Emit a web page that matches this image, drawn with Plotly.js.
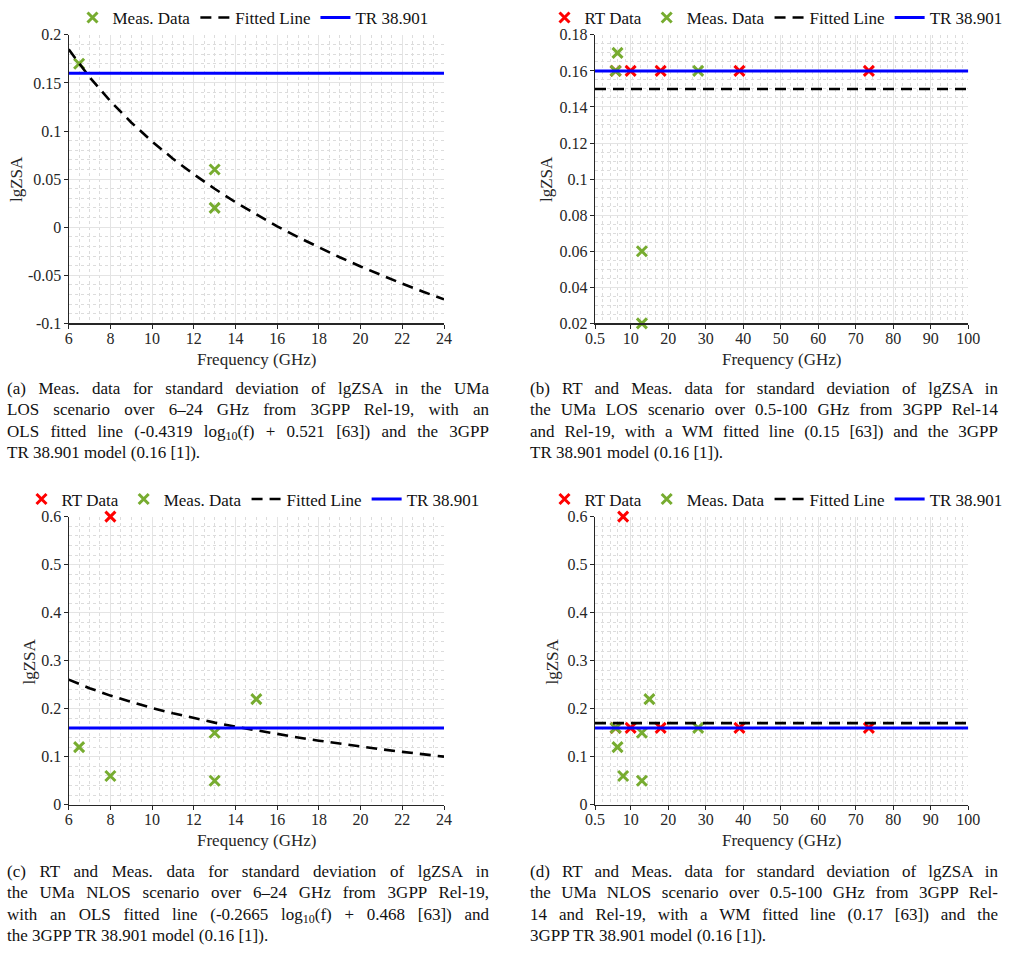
<!DOCTYPE html>
<html>
<head>
<meta charset="utf-8">
<script src="https://cdn.plot.ly/plotly-3.0.1.min.js"></script>
<style>
  html, body { margin: 0; padding: 0; background: #fff; }
  #wrap { position: relative; width: 1020px; height: 954px; }
  #fig { position: absolute; left: 0; top: 0; width: 1020px; height: 954px; }
  .cap { position: absolute; font-size: 17px; color: #111; line-height: 21.3px; }
  .cap div { text-align: justify; text-align-last: justify; white-space: normal; }
  .cap div.last { text-align: left; text-align-last: left; }
  .cap sub { font-size: 12px; vertical-align: -3px; line-height: 0; }
</style>
</head>
<body>
<div id="wrap">
  <div id="fig"></div>
  <div class="cap" style="left:7px; top:378px; width:482px;">
    <div>(a) Meas. data for standard deviation of lgZSA in the UMa</div>
    <div>LOS scenario over 6–24 GHz from 3GPP Rel-19, with an</div>
    <div>OLS fitted line (-0.4319 log<sub>10</sub>(f) + 0.521 [63]) and the 3GPP</div>
    <div class="last">TR 38.901 model (0.16 [1]).</div>
  </div>
  <div class="cap" style="left:530px; top:378px; width:468px;">
    <div>(b) RT and Meas. data for standard deviation of lgZSA in</div>
    <div>the UMa LOS scenario over 0.5-100 GHz from 3GPP Rel-14</div>
    <div>and Rel-19, with a WM fitted line (0.15 [63]) and the 3GPP</div>
    <div class="last">TR 38.901 model (0.16 [1]).</div>
  </div>
  <div class="cap" style="left:7px; top:861px; width:482px;">
    <div>(c) RT and Meas. data for standard deviation of lgZSA in</div>
    <div>the UMa NLOS scenario over 6–24 GHz from 3GPP Rel-19,</div>
    <div>with an OLS fitted line (-0.2665 log<sub>10</sub>(f) + 0.468 [63]) and</div>
    <div class="last">the 3GPP TR 38.901 model (0.16 [1]).</div>
  </div>
  <div class="cap" style="left:530px; top:861px; width:468px;">
    <div>(d) RT and Meas. data for standard deviation of lgZSA in</div>
    <div>the UMa NLOS scenario over 0.5-100 GHz from 3GPP Rel-</div>
    <div>14 and Rel-19, with a WM fitted line (0.17 [63]) and the</div>
    <div class="last">3GPP TR 38.901 model (0.16 [1]).</div>
  </div>
</div>
<script>
// ---- (a) UMa LOS, 6–24 GHz ----
const fitFreqA = [6,7,8,9,10,11,12,13,14,15,16,17,18,19,20,21,22,23,24];
const fitValA  = [0.1849,0.1560,0.1310,0.1089,0.0891,0.0712,0.0549,0.0399,0.0260,0.0131,
                  0.0009,-0.0104,-0.0212,-0.0313,-0.0409,-0.0501,-0.0588,-0.0671,-0.0751];
const measFreqA = [6.5, 13, 13];
const measValA  = [0.17, 0.06, 0.02];
const trFreqA = [6, 24];
const trValA  = [0.16, 0.16];

// ---- (b) UMa LOS, 0.5–100 GHz ----
const rtFreqB = [6, 10, 18, 39, 73.5];
const rtValB  = [0.16, 0.16, 0.16, 0.16, 0.16];
const measFreqB = [6, 6.5, 13, 13, 28];
const measValB  = [0.16, 0.17, 0.06, 0.02, 0.16];
const fitFreqB = [0.5, 100];
const fitValB  = [0.15, 0.15];
const trFreqB = [0.5, 100];
const trValB  = [0.16, 0.16];

// ---- (c) UMa NLOS, 6–24 GHz ----
const rtFreqC = [8];
const rtValC  = [0.6];
const measFreqC = [6.5, 8, 13, 13, 15];
const measValC  = [0.12, 0.06, 0.15, 0.05, 0.22];
const fitFreqC = [6,7,8,9,10,11,12,13,14,15,16,17,18,19,20,21,22,23,24];
const fitValC  = [0.2606,0.2428,0.2273,0.2137,0.2015,0.1905,0.1804,0.1711,0.1626,0.1546,
                  0.1471,0.1401,0.1335,0.1272,0.1213,0.1156,0.1102,0.1051,0.1002];
const trFreqC = [6, 24];
const trValC  = [0.16, 0.16];

// ---- (d) UMa NLOS, 0.5–100 GHz ----
const rtFreqD = [6, 8, 10, 18, 39, 73.5];
const rtValD  = [0.16, 0.6, 0.16, 0.16, 0.16, 0.16];
const measFreqD = [6, 6.5, 8, 13, 13, 15, 28];
const measValD  = [0.16, 0.12, 0.06, 0.15, 0.05, 0.22, 0.16];
const fitFreqD = [0.5, 100];
const fitValD  = [0.17, 0.17];
const trFreqD = [0.5, 100];
const trValD  = [0.16, 0.16];

// tick labels
const xTicksNarrow = [6,8,10,12,14,16,18,20,22,24];
const xTickTextNarrow = ['6','8','10','12','14','16','18','20','22','24'];
const xTicksWide = [0.5,10,20,30,40,50,60,70,80,90,100];
const xTickTextWide = ['0.5','10','20','30','40','50','60','70','80','90','100'];
const yTicksA = [-0.1,-0.05,0,0.05,0.1,0.15,0.2];
const yTickTextA = ['-0.1','-0.05','0','0.05','0.1','0.15','0.2'];
const yTicksB = [0.02,0.04,0.06,0.08,0.1,0.12,0.14,0.16,0.18];
const yTickTextB = ['0.02','0.04','0.06','0.08','0.1','0.12','0.14','0.16','0.18'];
const yTicksCD = [0,0.1,0.2,0.3,0.4,0.5,0.6];
const yTickTextCD = ['0','0.1','0.2','0.3','0.4','0.5','0.6'];

// pick the first installed serif face (canvas width test against monospace)
function pickSerif() {
  const cands = ['Liberation Serif', 'DejaVu Serif', 'Times New Roman', 'Noto Serif',
                 'Tinos', 'FreeSerif', 'Nimbus Roman', 'Times'];
  const ctx = document.createElement('canvas').getContext('2d');
  const probe = 'mmmmmmmmmwwwwwlliiI0.15 Meas. Data';
  const widthOf = f => { ctx.font = '40px ' + f; return ctx.measureText(probe).width; };
  const mono = widthOf('monospace'), sans = widthOf('sans-serif');
  for (const c of cands) {
    const a = widthOf('"' + c + '", monospace');
    const b = widthOf('"' + c + '", sans-serif');
    if (a !== mono || b !== sans) return '"' + c + '", serif';
  }
  return 'serif';
}
const SERIF = pickSerif();
document.querySelectorAll('.cap').forEach(el => { el.style.fontFamily = SERIF; });

const INK = '#262626';
const GREEN = '#77AC30', RED = '#FF0000', BLUE = '#0000FF';
const W = 1020, H = 954;
const px = v => v / W;
const py = v => 1 - v / H;

function markers(x, y, name, color, xa, ya, lg) {
  return { x, y, name, type: 'scatter', mode: 'markers', cliponaxis: false,
           xaxis: xa, yaxis: ya, legend: lg,
           marker: { symbol: 'x-thin', size: 10, color, line: { color, width: 3 } } };
}
function fitted(x, y, xa, ya, lg) {
  return { x, y, name: 'Fitted Line', type: 'scatter', mode: 'lines',
           xaxis: xa, yaxis: ya, legend: lg,
           line: { color: '#000', width: 2.6, dash: '11px,7px' } };
}
function model(x, y, xa, ya, lg) {
  return { x, y, name: 'TR 38.901', type: 'scatter', mode: 'lines',
           xaxis: xa, yaxis: ya, legend: lg,
           line: { color: BLUE, width: 3 } };
}

const traces = [
  markers(measFreqA, measValA, 'Meas. Data', GREEN, 'x', 'y', 'legend'),
  fitted(fitFreqA, fitValA, 'x', 'y', 'legend'),
  model(trFreqA, trValA, 'x', 'y', 'legend'),

  markers(rtFreqB, rtValB, 'RT Data', RED, 'x2', 'y2', 'legend2'),
  markers(measFreqB, measValB, 'Meas. Data', GREEN, 'x2', 'y2', 'legend2'),
  fitted(fitFreqB, fitValB, 'x2', 'y2', 'legend2'),
  model(trFreqB, trValB, 'x2', 'y2', 'legend2'),

  markers(rtFreqC, rtValC, 'RT Data', RED, 'x3', 'y3', 'legend3'),
  markers(measFreqC, measValC, 'Meas. Data', GREEN, 'x3', 'y3', 'legend3'),
  fitted(fitFreqC, fitValC, 'x3', 'y3', 'legend3'),
  model(trFreqC, trValC, 'x3', 'y3', 'legend3'),

  markers(rtFreqD, rtValD, 'RT Data', RED, 'x4', 'y4', 'legend4'),
  markers(measFreqD, measValD, 'Meas. Data', GREEN, 'x4', 'y4', 'legend4'),
  fitted(fitFreqD, fitValD, 'x4', 'y4', 'legend4'),
  model(trFreqD, trValD, 'x4', 'y4', 'legend4'),
];

function axis(domain, range, tickvals, ticktext, minorStep, anchor, standoff) {
  return {
    domain, range, anchor, tickmode: 'array', tickvals, ticktext,
    showline: true, linecolor: INK, linewidth: 1.2, mirror: false,
    ticks: 'outside', ticklen: 4, tickwidth: 1, tickcolor: INK,
    ticklabelstandoff: standoff,
    showgrid: true, gridcolor: '#e4e4e4', gridwidth: 1, zeroline: false,
    tickfont: { family: SERIF, size: 16, color: INK },
    minor: { dtick: minorStep, tick0: range[0], showgrid: true, gridcolor: '#dcdcdc',
             griddash: 'dot', gridwidth: 1, ticks: '' },
    fixedrange: true
  };
}

const xL = [px(68.7), px(444)];
const xR = [px(595), px(968.3)];
const yTop = [py(320), py(30)];
const yBot = [py(804), py(514.3)];

function legend(xc, yc) {
  return { orientation: 'h', x: xc, y: yc, xanchor: 'center', yanchor: 'middle',
           xref: 'paper', yref: 'paper', bgcolor: 'rgba(0,0,0,0)', borderwidth: 0,
           itemwidth: 30, tracegroupgap: 0,
           font: { family: SERIF, size: 17, color: '#111' } };
}

function label(text, x, y, angle) {
  return { text, x: px(x), y: py(y), xref: 'paper', yref: 'paper', showarrow: false,
           xanchor: 'center', yanchor: 'middle', textangle: angle || 0,
           font: { family: SERIF, size: 17, color: INK } };
}

const layout = {
  width: W, height: H, margin: { l: 0, r: 0, t: 0, b: 0 },
  paper_bgcolor: '#fff', plot_bgcolor: '#fff', showlegend: true,
  xaxis:  axis(xL, [6, 24], xTicksNarrow, xTickTextNarrow, 0.5, 'y', -4),
  yaxis:  axis(yTop, [-0.1, 0.2], yTicksA, yTickTextA, 0.01, 'x', -1),
  xaxis2: axis(xR, [0.5, 100], xTicksWide, xTickTextWide, 2, 'y2', -4),
  yaxis2: axis(yTop, [0.02, 0.18], yTicksB, yTickTextB, 0.005, 'x2', -1),
  xaxis3: axis(xL, [6, 24], xTicksNarrow, xTickTextNarrow, 0.5, 'y3', -4),
  yaxis3: axis(yBot, [0, 0.6], yTicksCD, yTickTextCD, 0.02, 'x3', -1),
  xaxis4: axis(xR, [0.5, 100], xTicksWide, xTickTextWide, 2, 'y4', -4),
  yaxis4: axis(yBot, [0, 0.6], yTicksCD, yTickTextCD, 0.02, 'x4', -1),
  legend:  legend(px(253), py(13)),
  legend2: legend(px(776), py(13)),
  legend3: legend(px(253), py(497)),
  legend4: legend(px(776), py(497)),
  annotations: [
    label('Frequency (GHz)', 256, 356),
    label('Frequency (GHz)', 781, 356),
    label('Frequency (GHz)', 256, 840),
    label('Frequency (GHz)', 781, 840),
    label('lgZSA', 16, 175, -90),
    label('lgZSA', 546, 175, -90),
    label('lgZSA', 30, 660, -90),
    label('lgZSA', 553, 660, -90),
  ]
};

Plotly.newPlot('fig', traces, layout, { staticPlot: true, displayModeBar: false });
</script>
</body>
</html>
